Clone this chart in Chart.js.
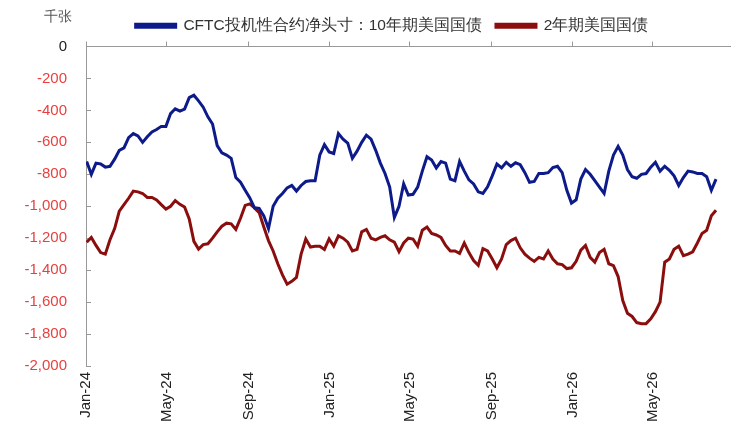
<!DOCTYPE html>
<html>
<head>
<meta charset="utf-8">
<script src="https://cdn.jsdelivr.net/npm/chart.js@4.4.1/dist/chart.umd.min.js"></script>
<style>
  html, body { margin: 0; padding: 0; background: #fff; }
  #wrap { width: 751px; height: 443px; }
</style>
</head>
<body>
<div id="wrap"><canvas id="cftc"></canvas></div>
<script>
// weekly CFTC reports, first one on 2024-01-02
var startDate = '2024-01-02';
var weeks = 136;

// net speculative position, thousand contracts
var tenYear = [
  -720, -800, -730, -735, -755, -750, -705, -650, -635, -570,
  -545, -560, -600, -565, -535, -520, -500, -500, -420, -390,
  -405, -392, -320, -305, -340, -380, -440, -485, -620, -665,
  -680, -700, -820, -850, -900, -948, -1010, -1013, -1060, -1140,
  -1000, -950, -920, -885, -870, -905, -870, -845, -840, -840,
  -680, -615, -660, -670, -545, -580, -605, -700, -655, -600,
  -555, -580, -650, -730, -795, -880, -1070, -1000, -860, -930,
  -925, -880, -780, -690, -710, -760, -720, -730, -830, -840,
  -720, -780, -835, -860, -910, -920, -878, -810, -735, -760,
  -725, -750, -728, -740, -790, -850, -845, -795, -795, -790,
  -758, -750, -790, -900, -980, -960, -830, -770, -800, -840,
  -880, -920, -780, -680, -625, -680, -770, -815, -825, -800,
  -795, -755, -725, -780, -750, -775, -810, -870, -820, -780,
  -785, -795, -795, -815, -900, -830
];
var twoYear = [
  -1225, -1195, -1245, -1290, -1300, -1210, -1140, -1030, -990, -950,
  -905, -910, -920, -945, -945, -960, -990, -1018, -1000, -965,
  -988, -1005, -1080, -1220, -1268, -1240, -1235, -1200, -1160, -1125,
  -1106, -1110, -1145, -1075, -995, -985, -1010, -1040, -1130, -1215,
  -1280, -1360, -1430, -1488, -1470, -1445, -1300, -1205, -1255, -1250,
  -1250, -1270, -1205, -1250, -1185, -1200, -1225, -1280, -1270, -1160,
  -1145, -1200, -1210, -1195, -1185, -1210, -1225, -1285, -1230, -1200,
  -1205, -1250, -1150, -1130, -1170, -1180, -1195, -1245, -1280, -1280,
  -1295, -1230, -1290, -1340, -1370, -1265, -1280, -1330, -1385, -1330,
  -1240, -1215, -1200, -1260, -1300, -1325, -1345, -1320, -1330, -1280,
  -1330, -1360, -1365, -1390, -1385, -1345, -1275, -1245, -1320, -1350,
  -1290, -1270, -1360, -1372, -1440, -1590, -1670, -1690, -1728, -1735,
  -1735, -1705, -1660, -1600, -1350, -1330, -1270, -1250, -1310, -1300,
  -1285, -1230, -1170, -1150, -1060, -1025
];

var tickDates = ['2024-01-01', '2024-05-01', '2024-09-01', '2025-01-01',
                 '2025-05-01', '2025-09-01', '2026-01-01', '2026-05-01'];
var tickLabels = ['Jan-24', 'May-24', 'Sep-24', 'Jan-25',
                  'May-25', 'Sep-25', 'Jan-26', 'May-26'];
var yTicks = [0, -200, -400, -600, -800, -1000, -1200, -1400, -1600, -1800, -2000];

var seriesNames = ['CFTC投机性合约净头寸：10年期美国国债', '2年期美国国债'];
var seriesColors = ['#0d1a8a', '#8b0e0e'];

var DAY = 86400000;
var origin = Date.UTC(2024, 0, 1);
function dayOf(s) {
  var p = s.split('-');
  return (Date.UTC(+p[0], +p[1] - 1, +p[2]) - origin) / DAY;
}
var tickDays = tickDates.map(dayOf);
var xMax = 967;

function points(vals) {
  var first = dayOf(startDate);
  return vals.slice(0, weeks).map(function (v, i) {
    return { x: first + i * 7, y: v };
  });
}

function setTicks(axis) {
  axis.ticks = tickDays.map(function (d) { return { value: d }; });
}

// unit label above the value axis, legend nudged right like the original
var extras = {
  id: 'extras',
  beforeDraw: function (chart) {
    chart.legend.left = 54;
  },
  afterDraw: function (chart) {
    var c = chart.ctx;
    c.save();
    c.font = '14px "Liberation Sans", Arial, sans-serif';
    c.fillStyle = '#555';
    c.textAlign = 'center';
    c.textBaseline = 'middle';
    c.fillText('千张', chart.chartArea.left - 28, 17);
    c.restore();
  }
};

Chart.defaults.font.family = '"Liberation Sans", Arial, sans-serif';
Chart.defaults.animation = false;

var ctx = document.getElementById('cftc');
var myChart = new Chart(ctx, {
  type: 'line',
  data: {
    datasets: [
      {
        label: seriesNames[0],
        data: points(tenYear),
        borderColor: seriesColors[0],
        backgroundColor: seriesColors[0],
        borderWidth: 3,
        pointRadius: 0,
        tension: 0,
        xAxisID: 'x'
      },
      {
        label: seriesNames[1],
        data: points(twoYear),
        borderColor: seriesColors[1],
        backgroundColor: seriesColors[1],
        borderWidth: 3,
        pointRadius: 0,
        tension: 0,
        xAxisID: 'x'
      }
    ]
  },
  options: {
    responsive: true,
    maintainAspectRatio: false,
    layout: { padding: { left: 0, right: 21, top: 4, bottom: 0 } },
    plugins: {
      legend: {
        position: 'top',
        align: 'center',
        labels: {
          boxWidth: 40,
          boxHeight: 3,
          color: '#333',
          font: { size: 15.5 },
          padding: 14
        }
      },
      tooltip: { enabled: false }
    },
    scales: {
      x: {
        type: 'linear',
        position: 'bottom',
        min: 0,
        max: xMax,
        afterBuildTicks: setTicks,
        afterFit: function (s) { s.height = 77; },
        grid: { display: false, drawTicks: false },
        border: { display: false },
        ticks: {
          autoSkip: false,
          minRotation: 90,
          maxRotation: 90,
          padding: 6,
          color: '#222',
          font: { size: 15 },
          callback: function (v) {
            var i = tickDays.indexOf(v);
            return i < 0 ? '' : tickLabels[i];
          }
        }
      },
      xTop: {
        type: 'linear',
        position: 'top',
        min: 0,
        max: xMax,
        afterBuildTicks: setTicks,
        afterFit: function (s) { s.height = 3; },
        grid: { drawOnChartArea: false, drawTicks: true, tickLength: 5, color: '#999' },
        border: { display: true, color: '#999', width: 1 },
        ticks: { display: false }
      },
      y: {
        min: -2000,
        max: 0,
        afterBuildTicks: function (axis) {
          axis.ticks = yTicks.map(function (v) { return { value: v }; });
        },
        afterFit: function (s) { s.width = 86; },
        grid: { drawOnChartArea: false, drawTicks: true, tickLength: -5, color: '#999' },
        border: { display: true, color: '#999', width: 1 },
        ticks: {
          padding: 24,
          font: { size: 15 },
          color: function (c) { return c.tick && c.tick.value === 0 ? '#222' : '#e8403f'; },
          callback: function (v) { return v.toLocaleString('en-US'); }
        }
      }
    }
  },
  plugins: [extras]
});
</script>
</body>
</html>
